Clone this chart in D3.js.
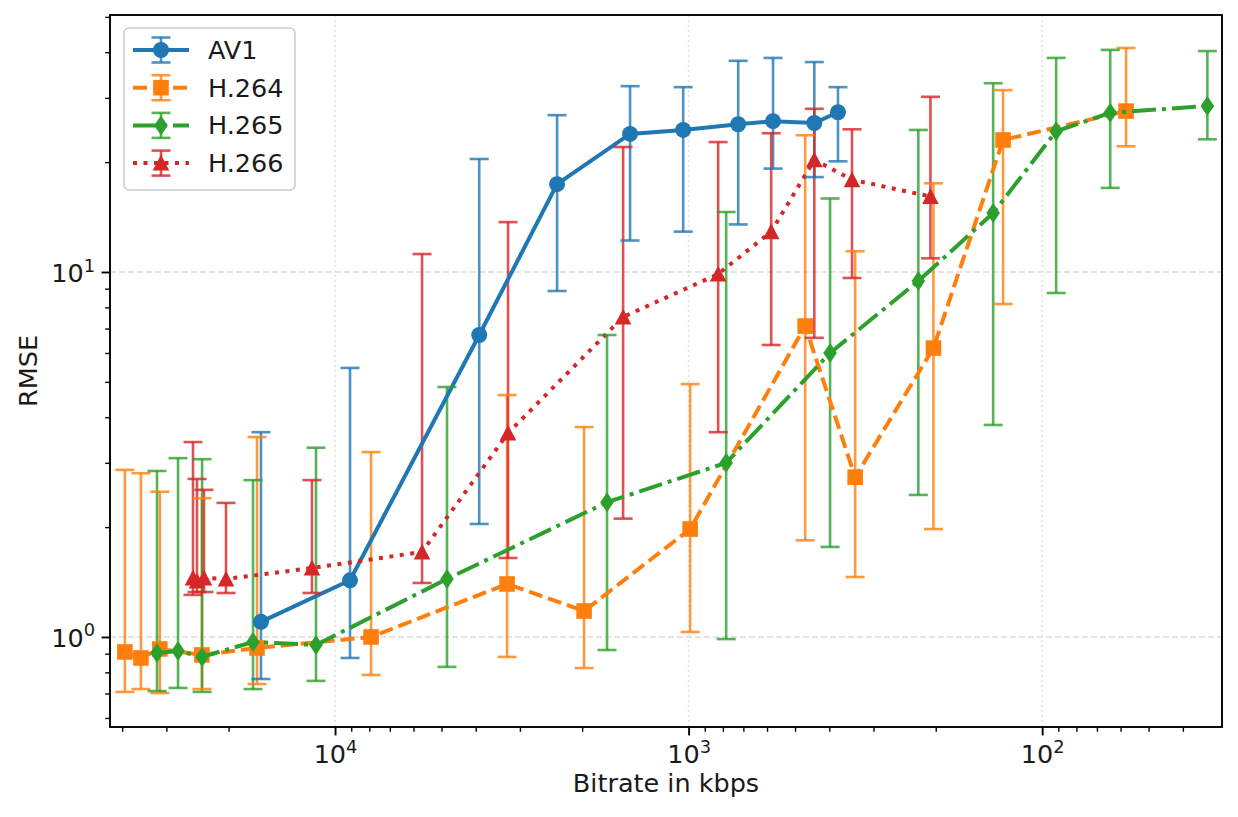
<!DOCTYPE html>
<html>
<head>
<meta charset="utf-8">
<script src="https://cdn.jsdelivr.net/npm/d3@7"></script>
<style>
  body { margin: 0; background: #fff; }
  svg text { font-family: "DejaVu Sans", sans-serif; fill: #1a1a1a; }
</style>
</head>
<body>
<svg id="chart"></svg>
<script>
// values (bitrate in kbps, RMSE with lower / upper error bound)
const av1Bitrate = [16200, 9070, 3910, 2355, 1464, 1036, 724, 577, 441, 378];
const av1Rmse    = [1.10, 1.43, 6.72, 17.4, 23.9, 24.5, 25.4, 25.9, 25.6, 27.4];
const av1Lo      = [0.767, 0.876, 2.04, 8.87, 12.2, 12.9, 13.5, 19.2, 18.2, 20.1];
const av1Hi      = [3.64, 5.46, 20.4, 26.9, 32.3, 32.1, 37.9, 38.6, 37.6, 32.1];

const h264Bitrate = [39300, 35400, 31300, 23800, 16620, 7910, 3262, 1975, 990, 468, 338, 203, 129, 57.9];
const h264Rmse    = [0.910, 0.876, 0.927, 0.893, 0.933, 1.00, 1.397, 1.178, 1.976, 7.11, 2.74, 6.19, 23.0, 27.6];
const h264Lo      = [0.707, 0.720, 0.702, 0.720, 0.743, 0.787, 0.882, 0.822, 1.032, 1.84, 1.46, 1.976, 8.17, 22.1];
const h264Hi      = [2.87, 2.81, 2.50, 2.40, 3.53, 3.21, 4.60, 3.76, 4.93, 23.7, 11.4, 17.5, 31.5, 41.1];

const h265Bitrate = [31880, 27800, 23770, 17060, 11320, 4823, 1701, 783, 398, 224, 137.6, 91.3, 64.2, 34.1];
const h265Rmse    = [0.904, 0.915, 0.882, 0.969, 0.951, 1.442, 2.34, 3.00, 6.00, 9.45, 14.5, 24.3, 27.3, 28.5];
const h265Lo      = [0.711, 0.725, 0.707, 0.720, 0.758, 0.828, 0.921, 0.987, 1.765, 2.45, 3.81, 8.76, 17.0, 23.1];
const h265Hi      = [2.85, 3.09, 3.07, 2.69, 3.30, 4.84, 6.72, 14.6, 15.9, 24.5, 32.9, 38.6, 40.6, 40.3];

const h266Bitrate = [25220, 24570, 23480, 20340, 11620, 5674, 3241, 1532, 825, 584, 441, 345, 207];
const h266Rmse    = [1.451, 1.424, 1.451, 1.442, 1.545, 1.71, 3.62, 7.53, 9.87, 12.9, 20.3, 17.9, 16.1];
const h266Lo      = [1.304, 1.328, 1.328, 1.32, 1.32, 1.406, 1.646, 2.11, 3.64, 6.31, 6.60, 9.63, 10.9];
const h266Hi      = [3.42, 2.71, 2.53, 2.33, 2.69, 11.2, 13.7, 22.0, 22.7, 24.0, 28.0, 24.6, 30.2];

const seriesNames = ['AV1', 'H.264', 'H.265', 'H.266'];
const xMajorTicks = [1e4, 1e3, 1e2];
const yMajorTicks = [1, 10];
const xDomain = [43300, 31];
const yDomain = [0.5667, 50.6];

class CodecErrorChart {

    constructor(_config, _data) {
        this.config = {
            parentElement: _config.parentElement,
            width: 1238,
            height: 817,
            margin: { top: 15, right: 16, bottom: 90, left: 110 },
            fontSize: 25.5
        }
        this.data = _data;
        this.initVis();
    }

    initVis() {
        let vis = this;

        vis.innerWidth = vis.config.width - vis.config.margin.left - vis.config.margin.right;
        vis.innerHeight = vis.config.height - vis.config.margin.top - vis.config.margin.bottom;

        vis.svg = d3.select(vis.config.parentElement)
            .attr('width', vis.config.width)
            .attr('height', vis.config.height);

        vis.chart = vis.svg.append('g')
            .attr('transform', `translate(${vis.config.margin.left},${vis.config.margin.top})`);

        // bitrate axis runs from high to low
        vis.xScale = d3.scaleLog().domain(xDomain).range([0, vis.innerWidth]);
        vis.yScale = d3.scaleLog().domain(yDomain).range([vis.innerHeight, 0]);

        vis.gridG = vis.chart.append('g').attr('class', 'grid');
        vis.barsG = vis.chart.append('g').attr('class', 'errorbars');
        vis.linesG = vis.chart.append('g').attr('class', 'lines');
        vis.capsG = vis.chart.append('g').attr('class', 'caps');
        vis.axesG = vis.chart.append('g').attr('class', 'axes');
        vis.legendG = vis.chart.append('g').attr('class', 'legend');

        vis.updateVis();
    }

    updateVis() {
        let vis = this;

        vis.line = d3.line()
            .x(d => vis.xScale(d.b))
            .y(d => vis.yScale(d.v));

        vis.minorX = [];
        vis.minorY = [];
        for (let k = -1; k <= 4; k++) {
            for (let m = 2; m <= 9; m++) {
                const v = m * Math.pow(10, k);
                if (v < xDomain[0] && v > xDomain[1]) vis.minorX.push(v);
                if (v > yDomain[0] && v < yDomain[1]) vis.minorY.push(v);
            }
        }

        vis.renderVis();
    }

    markerPath(type) {
        if (type === 'circle') return d3.symbol(d3.symbolCircle, Math.PI * 8 * 8)();
        if (type === 'square') return 'M-7.8,-7.8H7.8V7.8H-7.8Z';
        if (type === 'diamond') return 'M0,-10L6.8,0L0,10L-6.8,0Z';
        return 'M0,-8.3L8.3,7.5L-8.3,7.5Z';
    }

    renderVis() {
        let vis = this;
        const w = vis.innerWidth, h = vis.innerHeight;
        const fs = vis.config.fontSize;

        // grid on the major ticks
        vis.gridG.selectAll('.hgrid')
            .data(yMajorTicks)
            .join('line')
            .attr('class', 'hgrid')
            .attr('x1', 0).attr('x2', w)
            .attr('y1', d => vis.yScale(d)).attr('y2', d => vis.yScale(d))
            .attr('stroke', '#dcdcdc')
            .attr('stroke-width', 1.6)
            .attr('stroke-dasharray', '6,3');

        vis.gridG.selectAll('.vgrid')
            .data(xMajorTicks)
            .join('line')
            .attr('class', 'vgrid')
            .attr('y1', 0).attr('y2', h)
            .attr('x1', d => vis.xScale(d)).attr('x2', d => vis.xScale(d))
            .attr('stroke', '#e2e2e2')
            .attr('stroke-width', 1.6)
            .attr('stroke-dasharray', '2,3');

        const capHalf = 9.5;
        const barWidth = 2.6;

        vis.data.forEach(s => {
            const pts = s.bitrate.map((b, i) => ({ b: b, v: s.rmse[i], lo: s.lo[i], hi: s.hi[i] }));

            vis.barsG.append('g')
                .selectAll('line')
                .data(pts)
                .join('line')
                .attr('x1', d => vis.xScale(d.b)).attr('x2', d => vis.xScale(d.b))
                .attr('y1', d => vis.yScale(d.lo)).attr('y2', d => vis.yScale(d.hi))
                .attr('stroke', s.color)
                .attr('stroke-opacity', 0.8)
                .attr('stroke-width', barWidth);

            const lg = vis.linesG.append('g');
            lg.append('path')
                .datum(pts)
                .attr('d', vis.line)
                .attr('fill', 'none')
                .attr('stroke', s.color)
                .attr('stroke-width', 4)
                .attr('stroke-dasharray', s.dash);

            lg.selectAll('.marker')
                .data(pts)
                .join('path')
                .attr('class', 'marker')
                .attr('transform', d => `translate(${vis.xScale(d.b)},${vis.yScale(d.v)})`)
                .attr('d', vis.markerPath(s.marker))
                .attr('fill', s.color);

            const caps = [];
            pts.forEach(d => { caps.push({ b: d.b, v: d.lo }); caps.push({ b: d.b, v: d.hi }); });
            vis.capsG.append('g')
                .selectAll('line')
                .data(caps)
                .join('line')
                .attr('x1', d => vis.xScale(d.b) - capHalf).attr('x2', d => vis.xScale(d.b) + capHalf)
                .attr('y1', d => vis.yScale(d.v)).attr('y2', d => vis.yScale(d.v))
                .attr('stroke', s.color)
                .attr('stroke-opacity', 0.8)
                .attr('stroke-width', barWidth);
        });

        // axes
        const xAxisG = vis.axesG.append('g').attr('transform', `translate(0,${h})`);
        xAxisG.call(d3.axisBottom(vis.xScale).tickValues(vis.minorX).tickSize(4.8).tickFormat(''));
        xAxisG.call(g => g.selectAll('.tick line').attr('stroke-width', 1.4));
        const xMajG = vis.axesG.append('g').attr('transform', `translate(0,${h})`);
        xMajG.call(d3.axisBottom(vis.xScale).tickValues(xMajorTicks).tickSize(8.4).tickFormat(''));
        xMajG.selectAll('.tick line').attr('stroke-width', 1.9);
        xMajG.selectAll('.tick').append('text')
            .attr('y', 36)
            .attr('text-anchor', 'middle')
            .attr('font-size', fs)
            .each(function (d) {
                const t = d3.select(this);
                t.append('tspan').text('10');
                t.append('tspan').attr('font-size', fs * 0.7).attr('dy', -10.5).text(Math.round(Math.log10(d)));
            });

        const yAxisG = vis.axesG.append('g');
        yAxisG.call(d3.axisLeft(vis.yScale).tickValues(vis.minorY).tickSize(4.8).tickFormat(''));
        yAxisG.selectAll('.tick line').attr('stroke-width', 1.4);
        const yMajG = vis.axesG.append('g');
        yMajG.call(d3.axisLeft(vis.yScale).tickValues(yMajorTicks).tickSize(8.4).tickFormat(''));
        yMajG.selectAll('.tick line').attr('stroke-width', 1.9);
        yMajG.selectAll('.tick').append('text')
            .attr('x', -15)
            .attr('y', 9.5)
            .attr('text-anchor', 'end')
            .attr('font-size', fs)
            .each(function (d) {
                const t = d3.select(this);
                t.append('tspan').text('10');
                t.append('tspan').attr('font-size', fs * 0.7).attr('dy', -10.5).text(Math.round(Math.log10(d)));
            });

        vis.axesG.selectAll('.domain').remove();
        vis.axesG.append('rect')
            .attr('width', w).attr('height', h)
            .attr('fill', 'none')
            .attr('stroke', '#000')
            .attr('stroke-width', 1.9);

        vis.chart.append('text')
            .attr('x', w / 2)
            .attr('y', h + 65)
            .attr('text-anchor', 'middle')
            .attr('font-size', fs)
            .text('Bitrate in kbps');

        vis.chart.append('text')
            .attr('transform', `translate(${37 - vis.config.margin.left},${h / 2}) rotate(-90)`)
            .attr('text-anchor', 'middle')
            .attr('font-size', fs)
            .text('RMSE');

        // legend
        vis.legendG.attr('transform', 'translate(14,13)');
        vis.legendG.append('rect')
            .attr('width', 171).attr('height', 162)
            .attr('rx', 5)
            .attr('fill', '#fff').attr('fill-opacity', 0.8)
            .attr('stroke', '#cccccc').attr('stroke-width', 1.6);

        const rows = vis.legendG.selectAll('.entry')
            .data(vis.data)
            .join('g')
            .attr('class', 'entry')
            .attr('transform', (d, i) => `translate(0,${22 + i * 37.7})`);

        rows.append('line')
            .attr('x1', 9).attr('x2', 65)
            .attr('stroke', d => d.color)
            .attr('stroke-width', 4)
            .attr('stroke-dasharray', d => d.dash);
        rows.append('line')
            .attr('x1', 37).attr('x2', 37).attr('y1', -12.5).attr('y2', 12.5)
            .attr('stroke', d => d.color).attr('stroke-opacity', 0.8).attr('stroke-width', barWidth);
        [-12.5, 12.5].forEach(cy => {
            rows.append('line')
                .attr('x1', 37 - capHalf).attr('x2', 37 + capHalf).attr('y1', cy).attr('y2', cy)
                .attr('stroke', d => d.color).attr('stroke-opacity', 0.8).attr('stroke-width', barWidth);
        });
        rows.append('path')
            .attr('transform', 'translate(37,0)')
            .attr('d', d => vis.markerPath(d.marker))
            .attr('fill', d => d.color);
        rows.append('text')
            .attr('x', 84)
            .attr('y', 9)
            .attr('font-size', fs)
            .text(d => d.name);
    }
}

const seriesData = [
    { name: seriesNames[0], color: '#1f77b4', dash: null, marker: 'circle', bitrate: av1Bitrate, rmse: av1Rmse, lo: av1Lo, hi: av1Hi },
    { name: seriesNames[1], color: '#ff7f0e', dash: '14,6', marker: 'square', bitrate: h264Bitrate, rmse: h264Rmse, lo: h264Lo, hi: h264Hi },
    { name: seriesNames[2], color: '#2ca02c', dash: '24,6,4,6', marker: 'diamond', bitrate: h265Bitrate, rmse: h265Rmse, lo: h265Lo, hi: h265Hi },
    { name: seriesNames[3], color: '#d62728', dash: '4,6.5', marker: 'triangle', bitrate: h266Bitrate, rmse: h266Rmse, lo: h266Lo, hi: h266Hi }
];

new CodecErrorChart({ parentElement: '#chart' }, seriesData);
</script>
</body>
</html>
